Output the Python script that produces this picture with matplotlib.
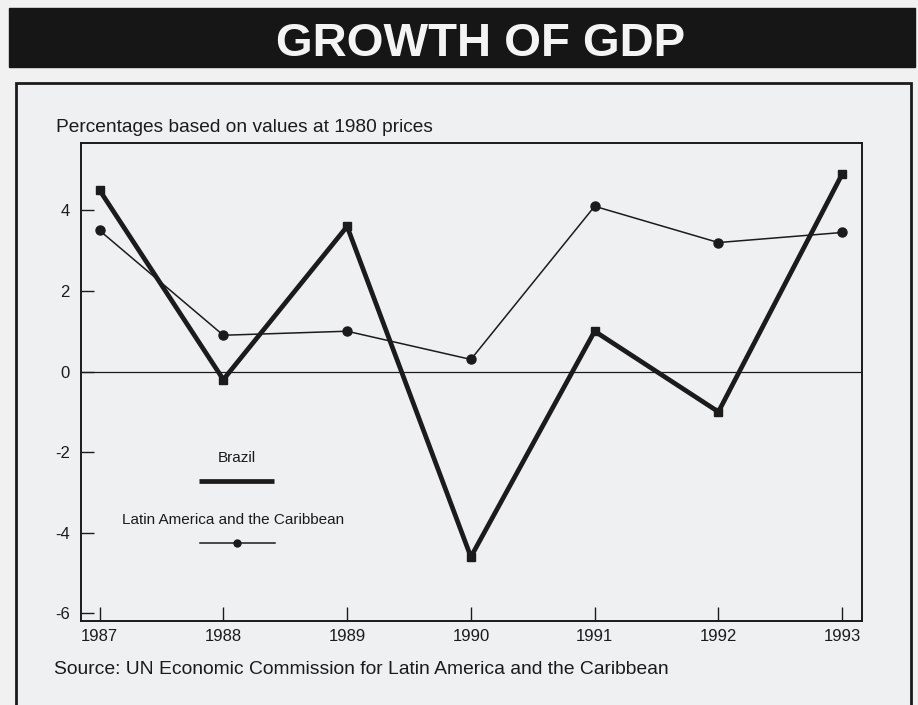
import matplotlib.pyplot as plt
from matplotlib.patches import Rectangle

# GDP growth, % (values at 1980 prices)
years = [1987, 1988, 1989, 1990, 1991, 1992, 1993]
brazil = [4.5, -0.2, 3.6, -4.6, 1.0, -1.0, 4.9]
latin_america = [3.5, 0.9, 1.0, 0.3, 4.1, 3.2, 3.45]
y_ticks = [-6, -4, -2, 0, 2, 4]

ink = "#1b1b1b"
paper = "#eef0f2"

plt.rcParams["font.family"] = ["Liberation Sans", "DejaVu Sans"]
plt.rcParams["axes.unicode_minus"] = False

fig = plt.figure(figsize=(9.18, 7.05), dpi=100, facecolor="#f1f1f1")

# title banner
fig.patches.append(Rectangle((9 / 918, 1 - 67 / 705), 906 / 918, 59 / 705,
                             transform=fig.transFigure, color="#161616", zorder=-2))
fig.text(0.523, 1 - 44 / 705, "GROWTH OF GDP", color="#f4f4f4", fontsize=34,
         fontweight="bold", ha="center", va="center")

# outer frame
fig.patches.append(Rectangle((16 / 918, -0.02), 895 / 918, 1 - 83 / 705 + 0.02,
                             transform=fig.transFigure, facecolor=paper,
                             edgecolor=ink, linewidth=2, zorder=-2))

ax = fig.add_axes([81 / 918, 1 - 621 / 705, 781 / 918, 478 / 705])
ax.set_zorder(5)
ax.set_facecolor(paper)
ax.set_xlim(1986.85, 1993.16)
ax.set_ylim(-6.19, 5.67)

ax.axhline(0, color=ink, linewidth=0.9, zorder=1)
ax.plot(years, latin_america, color=ink, linewidth=1.1, marker="o",
        markersize=6.5, zorder=2)
ax.plot(years, brazil, color=ink, linewidth=3.4, marker="s", markersize=5.5,
        zorder=3)

ax.set_xticks(years)
ax.set_yticks(y_ticks)
ax.tick_params(axis="x", direction="in", length=10, width=1, pad=6,
               labelsize=12, colors=ink)
ax.tick_params(axis="y", direction="in", length=9, width=1, pad=8,
               labelsize=12, colors=ink)
for s in ax.spines.values():
    s.set_color(ink)
    s.set_linewidth(1.4)

# hand-drawn key
ax.text(0.2, 0.341, "Brazil", transform=ax.transAxes, ha="center",
        va="center", fontsize=11, color=ink)
ax.plot([0.151, 0.247], [0.293, 0.293], transform=ax.transAxes, color=ink,
        linewidth=3.4, solid_capstyle="butt", clip_on=False)
ax.text(0.195, 0.211, "Latin America and the Caribbean", transform=ax.transAxes,
        ha="center", va="center", fontsize=11, color=ink)
ax.plot([0.152, 0.248], [0.163, 0.163], transform=ax.transAxes, color=ink,
        linewidth=1.1, clip_on=False)
ax.plot([0.2], [0.163], transform=ax.transAxes, color=ink, marker="o",
        markersize=5, clip_on=False)

fig.text(56 / 918, 1 - 127 / 705, "Percentages based on values at 1980 prices",
         fontsize=13.8, color=ink, va="center")
fig.text(54 / 918, 1 - 669 / 705,
         "Source: UN Economic Commission for Latin America and the Caribbean",
         fontsize=13.9, color=ink, va="center")

plt.savefig("out.png", dpi=100, facecolor=fig.get_facecolor())
